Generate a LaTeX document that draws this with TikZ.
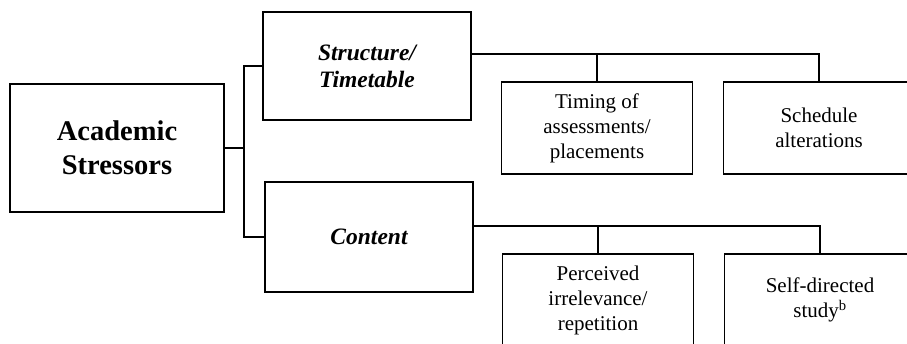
\documentclass[tikz,border=0pt]{standalone}
\usepackage{fontspec}
\setmainfont{Liberation Serif}
\usepackage{tikz}
\usetikzlibrary{shapes.geometric, arrows}
\tikzstyle{mainbox} = [rectangle, minimum width=214pt, minimum height=128pt, text centered, align=center, draw=black, line width=1.1pt, font=\fontsize{28.5}{34}\selectfont\bfseries]
\tikzstyle{catbox} = [rectangle, minimum width=208pt, minimum height=108pt, text centered, align=center, draw=black, line width=1.1pt, font=\fontsize{23.5}{27}\selectfont\bfseries\itshape]
\tikzstyle{itembox} = [rectangle, minimum width=191pt, minimum height=92pt, text centered, align=center, draw=black, line width=1.1pt, font=\fontsize{21}{25}\selectfont]
\tikzstyle{line} = [draw=black, line width=1.1pt]

\begin{document}
\begin{tikzpicture}[x=1pt, y=-1pt]
                \useasboundingbox (0,0) rectangle (907,344);
                \clip (0,0) rectangle (907,344);
                % Nodes
                \node (acad) [mainbox] at (117,148) {Academic\\Stressors};
                \node (struct) [catbox] at (367,66) {Structure/\\Timetable};
                \node (content) [catbox, minimum height=110pt] at (369,237) {Content};
                \node (timing) [itembox] at (597,128) {Timing of\\assessments/\\placements};
                \node (sched) [itembox] at (819,128) {Schedule\\alterations};
                \node (perc) [itembox] at (598,300) {Perceived\\irrelevance/\\repetition};
                \node (selfstudy) [itembox] at (820,300) {Self-directed\\study\textsuperscript{b}};

                % Connectors
                \coordinate (trunk) at (244,148);
                \coordinate (sbar) at ([yshift=12pt]struct.east);
                \coordinate (cbar) at ([yshift=11pt]content.east);
                \draw [line] (acad.east) -- (trunk);
                \draw [line] (struct.west) -| (trunk) |- (content.west);
                \draw [line] (sbar) -| (sched.north);
                \draw [line] (timing.north) -- (timing.north |- sbar);
                \draw [line] (cbar) -| (selfstudy.north);
                \draw [line] (perc.north) -- (perc.north |- cbar);
            \end{tikzpicture}
\end{document}
